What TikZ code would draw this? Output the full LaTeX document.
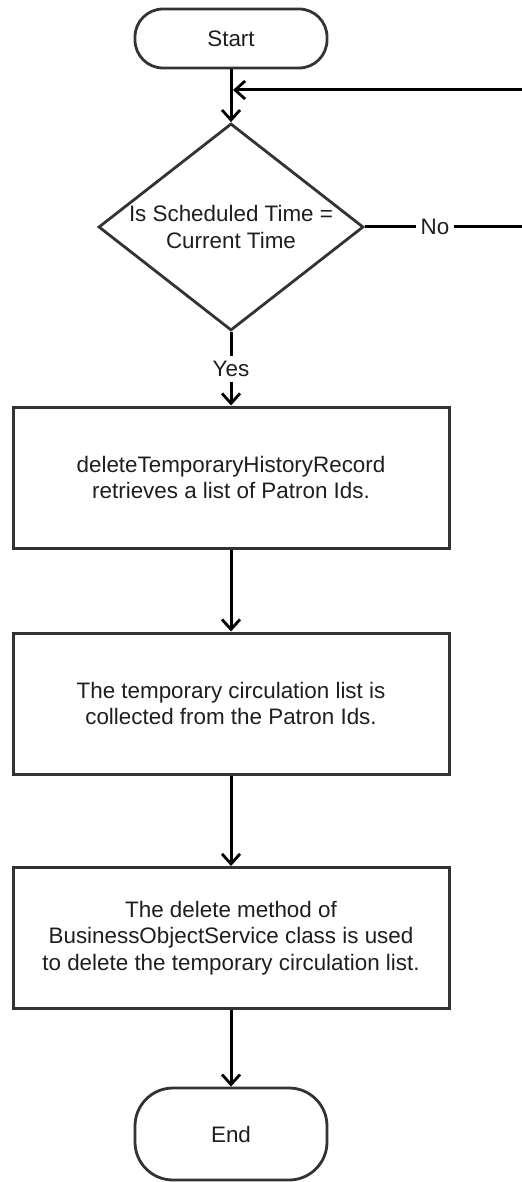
\documentclass[tikz,border=0pt]{standalone}
\usepackage{fontspec}
\setmainfont{Liberation Sans}
\usepackage{xcolor}
\usepackage{tikz}
\usetikzlibrary{positioning,arrows.meta,shapes.geometric}

\definecolor{boxline}{HTML}{333333}
\definecolor{txt}{HTML}{1E1E1E}

\begin{document}
\begin{tikzpicture}[x=0.5pt, y=-0.5pt, >={Straight Barb[length=5pt,width=9pt,line width=1.4pt]},
  every node/.style={font=\fontsize{11.2}{13.4}\selectfont, text=txt},
  terminal/.style={draw=boxline, line width=1.4pt, rounded corners=14pt, minimum width=96pt, minimum height=29.5pt},
  process/.style={draw=boxline, line width=1.5pt, minimum width=218pt, minimum height=70.5pt, align=center},
  decision/.style={draw=boxline, line width=1.4pt, diamond, minimum width=132.5pt, minimum height=103.5pt, inner sep=0pt},
  flow/.style={->, line width=1.5pt},
  tag/.style={fill=white, inner sep=2.5pt}]
\useasboundingbox (0,0) rectangle (522,1182);

% terminals
\node[terminal] (start) at (231,38.5) {Start};
\node[terminal, rounded corners=19pt, minimum height=46pt] (end) at (231,1134) {End};

% decision
\node[decision] (check) at (231,227) {};
\node[align=center] (checktext) at (check.center) {Is Scheduled Time =\\Current Time};

% steps
\node[process] (fetch) at (231,477.5) {deleteTemporaryHistoryRecord\\retrieves a list of Patron Ids.};
\node[process] (collect) at (231,703.5) {The temporary circulation list is\\collected from the Patron Ids.};
\node[process] (remove) at (231,938) {The delete method of\\BusinessObjectService class is used\\to delete the temporary circulation list.};

% loop back points (right edge)
\coordinate (join) at (233,90);
\coordinate (noturn) at (540,227);
\coordinate (loopturn) at (540,90);

% arrows
\draw[flow] (start) -- (check);
\draw[flow] (check) -- node[tag] {Yes} (fetch);
\draw[flow] (fetch) -- (collect);
\draw[flow] (collect) -- (remove);
\draw[flow] (remove) -- (end);
\draw[flow] (check.east) -- node[tag, pos=0.4] {No} (noturn) -- (loopturn) -- (join);
\end{tikzpicture}
\end{document}
